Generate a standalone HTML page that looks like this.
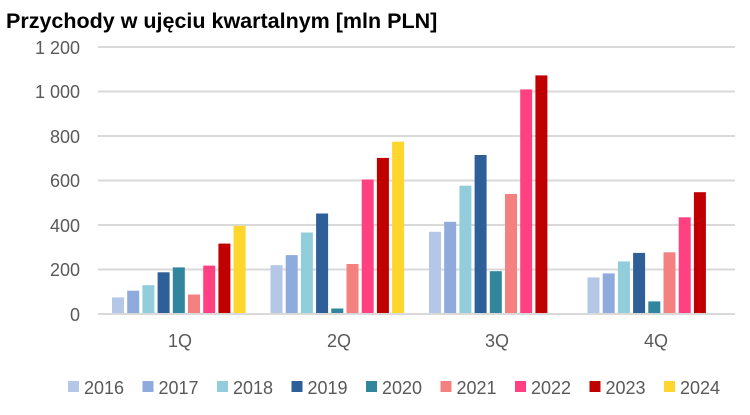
<!DOCTYPE html>
<html><head><meta charset="utf-8"><style>
body{margin:0;background:#fff;width:750px;height:410px;overflow:hidden}
</style></head><body>
<svg width="750" height="410" xmlns="http://www.w3.org/2000/svg" font-family="Liberation Sans, sans-serif">
<text x="6" y="28" font-size="21.5" font-weight="bold" fill="#000">Przychody w ujęciu kwartalnym [mln PLN]</text>
<g stroke="#d9d9d9" stroke-width="2">
<line x1="98" x2="735" y1="47" y2="47"/><line x1="98" x2="735" y1="91.5" y2="91.5"/>
<line x1="98" x2="735" y1="136" y2="136"/><line x1="98" x2="735" y1="180.5" y2="180.5"/>
<line x1="98" x2="735" y1="225" y2="225"/><line x1="98" x2="735" y1="269.5" y2="269.5"/>
<line x1="98" x2="735" y1="314" y2="314"/>
</g>
<g font-size="18" fill="#595959" text-anchor="end">
<text x="80" y="54">1 200</text><text x="80" y="98">1 000</text><text x="80" y="143">800</text>
<text x="80" y="187">600</text><text x="80" y="232">400</text><text x="80" y="276">200</text><text x="80" y="321">0</text>
</g>
<g>
<rect x="112" y="297.4" width="12" height="15.6" fill="#b4c7e7"/>
<rect x="127.2" y="290.7" width="12" height="22.3" fill="#8faadc"/>
<rect x="142.4" y="285.2" width="12" height="27.8" fill="#92cddc"/>
<rect x="157.6" y="272.3" width="12" height="40.7" fill="#2f5f98"/>
<rect x="172.8" y="267.4" width="12" height="45.6" fill="#31859c"/>
<rect x="188" y="294.5" width="12" height="18.5" fill="#f4817f"/>
<rect x="203.2" y="265.6" width="12" height="47.4" fill="#ff4081"/>
<rect x="218.4" y="243.6" width="12" height="69.4" fill="#c00000"/>
<rect x="233.6" y="225.8" width="12" height="87.2" fill="#ffd62e"/>

<rect x="270.5" y="265.2" width="12" height="47.8" fill="#b4c7e7"/>
<rect x="285.7" y="255.1" width="12" height="57.9" fill="#8faadc"/>
<rect x="300.9" y="232.5" width="12" height="80.5" fill="#92cddc"/>
<rect x="316.1" y="213.5" width="12" height="99.5" fill="#2f5f98"/>
<rect x="331.3" y="308.5" width="12" height="4.5" fill="#31859c"/>
<rect x="346.5" y="264" width="12" height="49" fill="#f4817f"/>
<rect x="361.7" y="179.5" width="12" height="133.5" fill="#ff4081"/>
<rect x="376.9" y="157.9" width="12" height="155.1" fill="#c00000"/>
<rect x="392.1" y="141.7" width="12" height="171.3" fill="#ffd62e"/>

<rect x="429" y="231.8" width="12" height="81.2" fill="#b4c7e7"/>
<rect x="444.2" y="221.8" width="12" height="91.2" fill="#8faadc"/>
<rect x="459.4" y="185.7" width="12" height="127.3" fill="#92cddc"/>
<rect x="474.6" y="155" width="12" height="158" fill="#2f5f98"/>
<rect x="489.8" y="271.2" width="12" height="41.8" fill="#31859c"/>
<rect x="505" y="194" width="12" height="119" fill="#f4817f"/>
<rect x="520.2" y="89.4" width="12" height="223.6" fill="#ff4081"/>
<rect x="535.4" y="75.4" width="12" height="237.6" fill="#c00000"/>

<rect x="587.5" y="277.4" width="12" height="35.6" fill="#b4c7e7"/>
<rect x="602.7" y="273.4" width="12" height="39.6" fill="#8faadc"/>
<rect x="617.9" y="261.4" width="12" height="51.6" fill="#92cddc"/>
<rect x="633.1" y="252.9" width="12" height="60.1" fill="#2f5f98"/>
<rect x="648.3" y="301.4" width="12" height="11.6" fill="#31859c"/>
<rect x="663.5" y="252.3" width="12" height="60.7" fill="#f4817f"/>
<rect x="678.7" y="217.3" width="12" height="95.7" fill="#ff4081"/>
<rect x="693.9" y="192.2" width="12" height="120.8" fill="#c00000"/>
</g>
<g font-size="18" fill="#595959" text-anchor="middle">
<text x="180" y="347">1Q</text><text x="339" y="347">2Q</text><text x="497" y="347">3Q</text><text x="656" y="347">4Q</text>
</g>
<g font-size="18" fill="#595959">
<rect x="68" y="381" width="11" height="11" fill="#b4c7e7"/><text x="84" y="394">2016</text>
<rect x="142.5" y="381" width="11" height="11" fill="#8faadc"/><text x="158.5" y="394">2017</text>
<rect x="217" y="381" width="11" height="11" fill="#92cddc"/><text x="233" y="394">2018</text>
<rect x="291.5" y="381" width="11" height="11" fill="#2f5f98"/><text x="307.5" y="394">2019</text>
<rect x="366" y="381" width="11" height="11" fill="#31859c"/><text x="382" y="394">2020</text>
<rect x="440.5" y="381" width="11" height="11" fill="#f4817f"/><text x="456.5" y="394">2021</text>
<rect x="515" y="381" width="11" height="11" fill="#ff4081"/><text x="531" y="394">2022</text>
<rect x="589.5" y="381" width="11" height="11" fill="#c00000"/><text x="605.5" y="394">2023</text>
<rect x="664" y="381" width="11" height="11" fill="#ffd62e"/><text x="680" y="394">2024</text>
</g>
</svg>
</body></html>
